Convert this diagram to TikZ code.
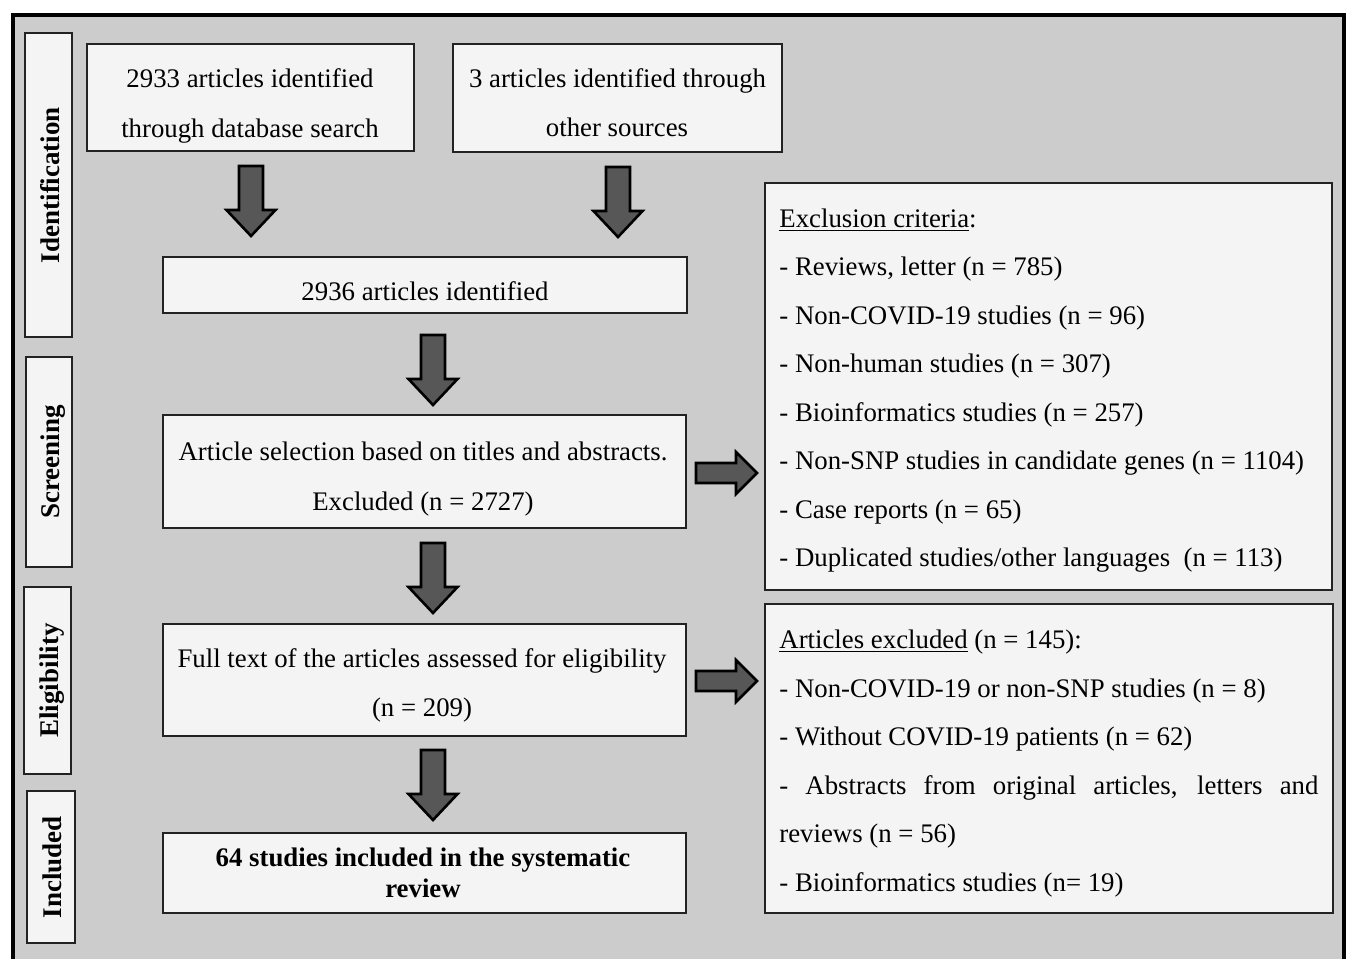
\documentclass[tikz,border=0pt]{standalone}
\usepackage{fontspec}
\setmainfont{Liberation Serif}
\definecolor{bggray}{HTML}{CCCCCC}
\definecolor{boxfill}{HTML}{F4F4F4}
\definecolor{arrgray}{HTML}{575757}
\definecolor{boxline}{HTML}{222222}
\begin{document}
\begin{tikzpicture}[x=0.5pt,y=-0.5pt,
  box/.style={draw=boxline, line width=1pt, fill=boxfill, rectangle, inner sep=0pt},
  txt/.style={font=\fontsize{13.4}{16}\selectfont, inner sep=0pt, anchor=base},
  ltxt/.style={txt, anchor=base west},
  btxt/.style={txt, font=\fontsize{13.4}{16}\selectfont\bfseries},
  vlab/.style={font=\fontsize{13.5}{16}\selectfont\bfseries, inner sep=0pt, anchor=base, rotate=90},
  arr/.style={draw=black, line width=1.3pt, fill=arrgray, line join=miter},
  darr/.pic={\draw[arr] (-12,0) -- (12,0) -- (12,44) -- (24.5,44) -- (0,70) -- (-24.5,44) -- (-12,44) -- cycle;},
  rarr/.pic={\draw[arr] (0,-10) -- (40,-10) -- (40,-21) -- (61,0) -- (40,21) -- (40,10) -- (0,10) -- cycle;}
]
\useasboundingbox (0,0) rectangle (1347,958);
\clip (0,0) rectangle (1347,958);
\fill[white] (0,0) rectangle (1347,958);
\draw[line width=2pt, fill=bggray] (12.5,14.5) rectangle (1344,1010);

% stage labels
\node[box, minimum width=23.5pt, minimum height=152pt] (lid) at (48.5,185) {};
\node[box, minimum width=23.25pt, minimum height=105pt] (lscr) at (48.75,462) {};
\node[box, minimum width=23.5pt, minimum height=93.5pt] (lel) at (47.5,680.5) {};
\node[box, minimum width=24pt, minimum height=76pt] (linc) at (51,867) {};
\node[vlab] (tid) at (59,185) {Identification};
\node[vlab] (tscr) at (59,462) {Screening};
\node[vlab] (tel) at (58,680.5) {Eligibility};
\node[vlab] (tinc) at (61,867) {Included};

% main boxes
\node[box, minimum width=163.5pt, minimum height=53.5pt] (A) at (250.5,97.5) {};
\node[box, minimum width=164.5pt, minimum height=54pt] (B) at (617.5,98) {};
\node[box, minimum width=262pt, minimum height=28pt] (C) at (425,285) {};
\node[box, minimum width=261.5pt, minimum height=56.5pt] (D) at (424.5,471.5) {};
\node[box, minimum width=261.5pt, minimum height=56pt] (E) at (424.5,680) {};
\node[box, minimum width=261.5pt, minimum height=40pt] (F) at (424.5,873) {};
\node[box, minimum width=283.5pt, minimum height=203.5pt] (G) at (1048.5,386.5) {};
\node[box, minimum width=284pt, minimum height=154.5pt] (H) at (1049,758.5) {};

% texts
\node[txt] (a1) at (250,87) {2933 articles identified};
\node[txt] (a2) at (250,137) {through database search};
\node[txt] (b1) at (617.5,87) {\makebox[148.5pt][s]{3 articles identified through}};
\node[txt] (b2) at (617,136) {other sources};
\node[txt] (c1) at (425,300) {2936 articles identified};
\node[txt] (d1) at (423,460) {Article selection based on titles and abstracts.};
\node[txt] (d2) at (423,510) {Excluded (n = 2727)};
\node[txt] (e1) at (422,667) {Full text of the articles assessed for eligibility};
\node[txt] (e2) at (422,716) {(n = 209)};
\node[btxt] (f1) at (423,866) {64 studies included in the systematic};
\node[btxt] (f2) at (423,897) {review};

\node[ltxt] (g0) at (779,227) {\underline{Exclusion criteria}:};
\node[ltxt] (g1) at (779,275.5) {- Reviews, letter (n = 785)};
\node[ltxt] (g2) at (779,324) {- Non-COVID-19 studies (n = 96)};
\node[ltxt] (g3) at (779,372.5) {- Non-human studies (n = 307)};
\node[ltxt] (g4) at (779,421) {- Bioinformatics studies (n = 257)};
\node[ltxt] (g5) at (779,469.5) {- Non-SNP studies in candidate genes (n = 1104)};
\node[ltxt] (g6) at (779,518) {- Case reports (n = 65)};
\node[ltxt] (g7) at (779,566.5) {- Duplicated studies/other languages \ (n = 113)};

\node[ltxt] (h0) at (779,648) {\underline{Articles excluded} (n = 145):};
\node[ltxt] (h1) at (779,697) {- Non-COVID-19 or non-SNP studies (n = 8)};
\node[ltxt] (h2) at (779,745) {- Without COVID-19 patients (n = 62)};
\node[ltxt] (h3) at (779,794) {\makebox[269.5pt][s]{- Abstracts from original articles, letters and}};
\node[ltxt] (h4) at (779,842) {reviews (n = 56)};
\node[ltxt] (h5) at (779,891) {- Bioinformatics studies (n= 19)};

% block arrows
\pic at (251,166) {darr};
\pic at (618,167) {darr};
\pic at (433,335) {darr};
\pic at (433,543) {darr};
\pic at (433,750) {darr};
\pic at (696,473) {rarr};
\pic at (696,681) {rarr};
\end{tikzpicture}
\end{document}
